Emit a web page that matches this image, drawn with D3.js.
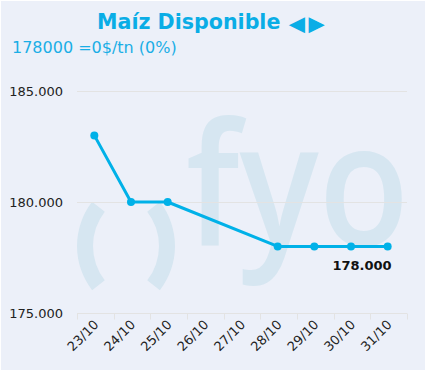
<!DOCTYPE html>
<html>
<head>
<meta charset="utf-8">
<script src="https://cdn.jsdelivr.net/npm/d3@7"></script>
<style>
  html, body { margin: 0; padding: 0; background: #ffffff; }
  svg { display: block; }
</style>
</head>
<body>
<script>
const titleText = "Maíz Disponible";
const titleArrows = "◄►";
const subtitleText = "178000 =0$/tn (0%)";
const categories = ["23/10", "24/10", "25/10", "26/10", "27/10", "28/10", "29/10", "30/10", "31/10"];
const values = [183000, 180000, 180000, null, null, 178000, 178000, 178000, 178000];
const yTicks = [175000, 180000, 185000];
const lastLabel = "178.000";

const W = 426, H = 371;
const margin = { left: 77, right: 19, top: 91, bottom: 58 };

const svg = d3.select("body").append("svg").attr("width", W).attr("height", H);

svg.append("rect").attr("x", 0.5).attr("y", 0.5).attr("width", W - 1).attr("height", H - 1)
  .attr("fill", "#ecf0f9").attr("stroke", "#ffffff").attr("stroke-width", 1);

const x = d3.scaleBand().domain(categories).range([margin.left, W - margin.right]);
const y = d3.scaleLinear().domain([175000, 185000]).range([H - margin.bottom, margin.top]);

// watermark
const wm = svg.append("g").attr("fill", "#d6e6f1");
const arc = d3.arc().innerRadius(56).outerRadius(72)
  .startAngle(-Math.PI / 2 - 0.66).endAngle(-Math.PI / 2 + 0.66);
wm.append("path").attr("d", arc()).attr("transform", "translate(149,246)");
const arc2 = d3.arc().innerRadius(56).outerRadius(72)
  .startAngle(Math.PI / 2 - 0.66).endAngle(Math.PI / 2 + 0.66);
wm.append("path").attr("d", arc2()).attr("transform", "translate(103,246)");
wm.append("text").attr("x", 186).attr("y", 245)
  .attr("font-family", "Open Sans").attr("font-weight", 600).attr("font-size", 170)
  .attr("textLength", 223).attr("lengthAdjust", "spacingAndGlyphs")
  .text("fyo");

// gridlines
const fmt = d => d3.format(",")(d).replace(/,/g, ".");
svg.append("g").selectAll("line").data(yTicks.slice(1)).join("line")
  .attr("x1", margin.left).attr("x2", W - margin.right)
  .attr("y1", d => Math.round(y(d)) + 0.5).attr("y2", d => Math.round(y(d)) + 0.5)
  .attr("stroke", "#e3e3e3").attr("stroke-width", 1);

// y labels
svg.append("g").selectAll("text").data(yTicks).join("text")
  .attr("x", 63).attr("y", d => y(d) + 5)
  .attr("text-anchor", "end")
  .attr("font-family", "DejaVu Sans").attr("font-size", 13).attr("fill", "#222")
  .text(fmt);

// x axis
const xAxis = svg.append("g").attr("transform", `translate(0,${Math.round(y(175000)) + 0.5})`);
xAxis.append("line").attr("x1", margin.left).attr("x2", W - margin.right)
  .attr("stroke", "#e3e3e3");
const edges = categories.map(c => x(c)).concat([x(categories[categories.length - 1]) + x.bandwidth()]);
xAxis.selectAll("line.tick").data(edges).join("line").attr("class", "tick")
  .attr("x1", d => Math.round(d) + 0.5).attr("x2", d => Math.round(d) + 0.5)
  .attr("y1", 0).attr("y2", 6).attr("stroke", "#e3e3e3");
xAxis.selectAll("text").data(categories).join("text")
  .attr("transform", d => `translate(${x(d) + x.bandwidth() / 2 + 4},${12}) rotate(-45)`)
  .attr("text-anchor", "end")
  .attr("font-family", "DejaVu Sans").attr("font-size", 13).attr("fill", "#222")
  .text(d => d);

// line
const pts = categories.map((c, i) => ({ c, v: values[i] })).filter(d => d.v !== null);
const cx = d => x(d.c) + x.bandwidth() / 2 - 1;
svg.append("path").datum(pts)
  .attr("d", d3.line().x(cx).y(d => y(d.v)))
  .attr("fill", "none").attr("stroke", "#00b1e8").attr("stroke-width", 3)
  .attr("stroke-linejoin", "round");
svg.append("g").selectAll("circle").data(pts).join("circle")
  .attr("cx", cx).attr("cy", d => y(d.v)).attr("r", 4).attr("fill", "#00b1e8");

const last = pts[pts.length - 1];
svg.append("text").attr("x", cx(last) + 4).attr("y", y(last.v) + 24)
  .attr("text-anchor", "end")
  .attr("font-family", "DejaVu Sans").attr("font-weight", "bold").attr("font-size", 13)
  .attr("fill", "#111").text(lastLabel);

// titles
const t = svg.append("text").attr("x", 97).attr("y", 29)
  .attr("font-family", "DejaVu Sans").attr("font-weight", "bold").attr("font-size", 20.6)
  .attr("fill", "#0aade6");
t.append("tspan").text(titleText);
t.append("tspan").attr("dx", 3).attr("dy", 4).attr("font-family", "Liberation Sans").attr("font-size", 27)
  .attr("letter-spacing", -7).text(titleArrows);
svg.append("text").attr("x", 12).attr("y", 53)
  .attr("font-family", "DejaVu Sans").attr("font-size", 16)
  .attr("fill", "#1aaee6").text(subtitleText);
</script>
</body>
</html>
